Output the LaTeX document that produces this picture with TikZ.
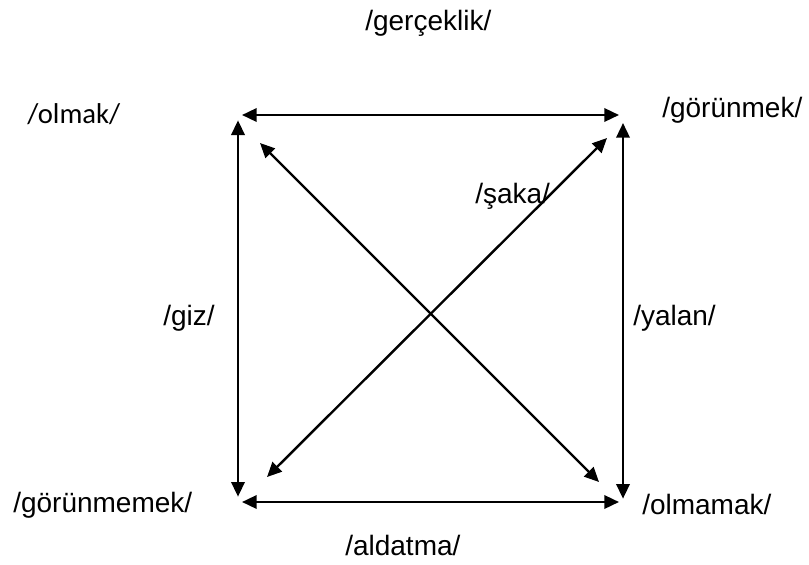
\documentclass[tikz,border=0pt]{standalone}
\usepackage{fontspec}
\setmainfont{Liberation Sans}
\newfontfamily\carlito{Carlito}
\usetikzlibrary{arrows.meta}
\tikzset{word/.style={anchor=base west,inner sep=0pt,font=\fontsize{21}{25}\selectfont},
  link/.style={{Triangle[length=11pt,width=10pt]}-{Triangle[length=11pt,width=10pt]},line width=1.8pt},
  gap/.style={shorten <=#1,shorten >=#1},}

\begin{document}
\begin{tikzpicture}[x=0.75pt,y=-0.75pt]
        \useasboundingbox (0,0) rectangle (809,564);
        % Corners
        \coordinate (tl) at (238,115);
        \coordinate (tr) at (623,115);
        \coordinate (bl) at (238,502);
        \coordinate (br) at (623,502);
        % Diagonal ends
        \coordinate (a1) at (260,143);
        \coordinate (a2) at (599,482);
        \coordinate (b1) at (267,477);
        \coordinate (b2) at (607,138);
        % Labels
        \node[word] (gercek) at (365,31) {/gerçeklik/};
        \node[word,font=\carlito\fontsize{21.5}{25}\selectfont] (olmak) at (27,123) {/olmak/};
        \node[word] (gorun) at (662,117) {/görünmek/};
        \node[word] (saka) at (475,203) {/şaka/};
        \node[word] (giz) at (163,325) {/giz/};
        \node[word] (yalan) at (633,325) {/yalan/};
        \node[word] (gorunme) at (13,512) {/görünmemek/};
        \node[word] (olmama) at (642,514) {/olmamak/};
        \node[word] (aldat) at (345,555) {/aldatma/};
        % Paths
        \path[link]
        (tl) edge [gap=3pt] (tr)
        (bl) edge [gap=3pt] (br)
        (tl) edge [gap=4pt] (bl)
        (tr) edge [shorten <=6pt,shorten >=2.5pt] (br)
        (a1) edge (a2)
        (b1) edge (b2);
\end{tikzpicture}
\end{document}
